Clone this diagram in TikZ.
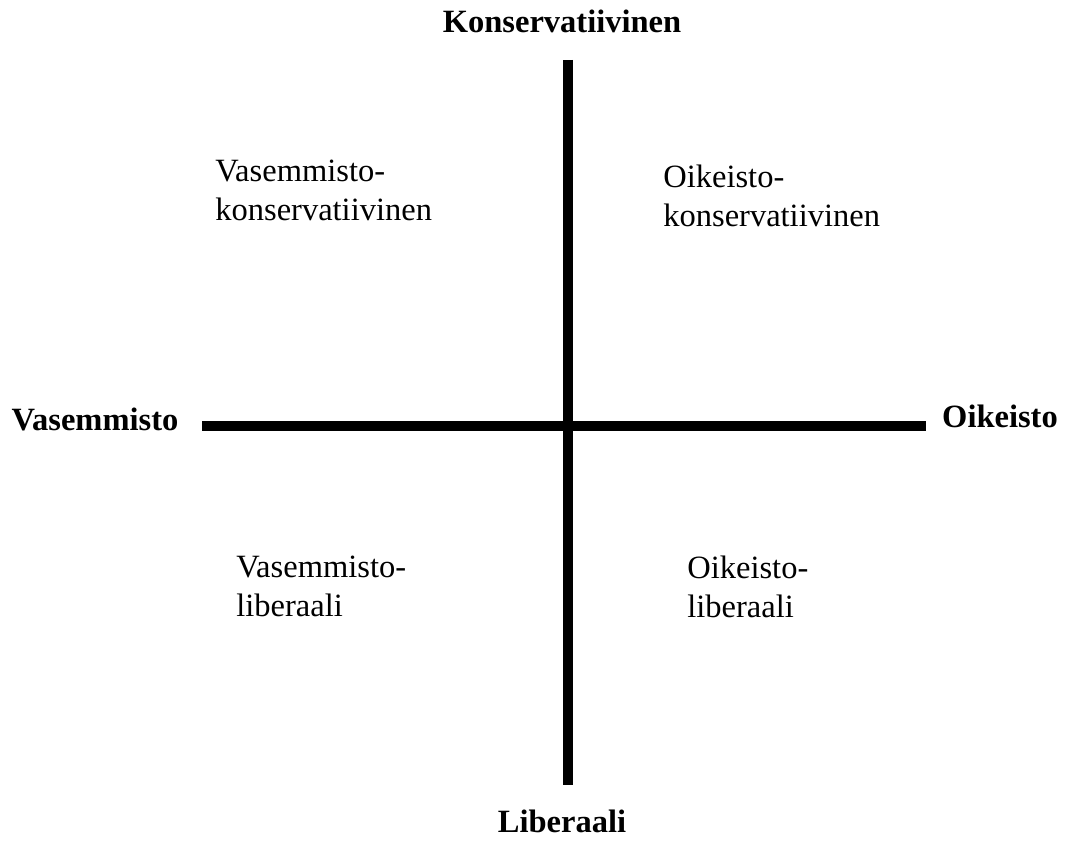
\documentclass[tikz,border=0pt]{standalone}
\usepackage{fontspec}
\setmainfont{Liberation Serif}
\usepackage{tikz}
\usetikzlibrary{positioning}

\begin{document}
\begin{tikzpicture}[x=0.02cm,y=-0.02cm,
  axis/.style={black,line width=6.2pt},
  pole/.style={font=\fontsize{18.5}{22}\selectfont\bfseries,inner sep=0pt,anchor=base},
  quad/.style={font=\fontsize{18.5}{22}\selectfont,inner sep=0pt,anchor=north west,align=left}]
\useasboundingbox (0,0) rectangle (1065,841);

% akselit
\coordinate (top) at (568,60);
\coordinate (bottom) at (568,785);
\coordinate (left) at (202,426);
\coordinate (right) at (926,426);
\draw[axis] (left) -- (right);
\draw[axis] (top) -- (bottom);

% paat
\node[pole] (kons) at (562,33) {Konservatiivinen};
\node[pole] (lib) at (562,832) {Liberaali};
\node[pole] (vas) at (95,430) {Vasemmisto};
\node[pole] (oik) at (1000,427) {Oikeisto};

% neljannekset
\node[quad] (vaskons) at (215,160) {Vasemmisto-\\konservatiivinen};
\node[quad] (oikkons) at (663,165) {Oikeisto-\\konservatiivinen};
\node[quad] (vaslib) at (236,556) {Vasemmisto-\\liberaali};
\node[quad] (oiklib) at (687,556) {Oikeisto-\\liberaali};
\end{tikzpicture}
\end{document}
